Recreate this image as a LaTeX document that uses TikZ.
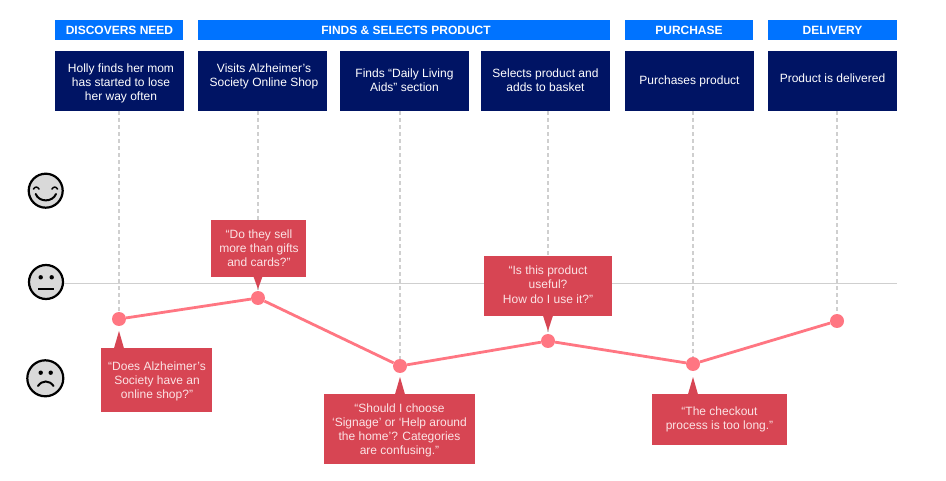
\documentclass[tikz,border=0pt]{standalone}
\usepackage{fontspec}
\setmainfont{Liberation Sans}
\definecolor{hdrblue}{HTML}{0073FF}
\definecolor{navy}{HTML}{001464}
\definecolor{callred}{HTML}{D74553}
\definecolor{curve}{HTML}{FF7682}
\definecolor{guide}{HTML}{CFCFCF}
\definecolor{facefill}{HTML}{D9D9D9}
\definecolor{facetext}{HTML}{FBE3E5}
\tikzset{
  hdr/.style={fill=hdrblue,text=white,font=\fontsize{12}{14}\selectfont\bfseries,inner sep=0pt},
  stepbox/.style={fill=navy,text=white,font=\fontsize{12}{14.2}\selectfont,inner sep=0pt},
  callbox/.style={fill=callred,text=facetext,font=\fontsize{12}{14.2}\selectfont,inner sep=0pt},
  dot/.style={circle,fill=curve,minimum size=14pt,inner sep=0pt},
  guideline/.style={guide,line width=1.6pt,dash pattern=on 4pt off 3pt},
  curveline/.style={curve,line width=2.8pt},
  facecircle/.style={circle,draw=black,line width=2.2pt,fill=facefill,inner sep=0pt},
  facestroke/.style={black,line width=2pt,line cap=round}
}
% name style x0 y0 x1 y1 dx dy text : text shifted by dx,dy (dy downwards)
\newcommand{\pbox}[9]{%
  \node[#2,minimum width=#5pt-#3pt,minimum height=#6pt-#4pt] (#1) at ({(#3+#5)/2},{(#4+#6)/2})
  {\hspace*{\dimexpr 2\dimexpr #7pt\relax\relax}\raisebox{0pt}[\dimexpr\height+#8pt\relax][\dimexpr\depth-#8pt\relax]{\begin{tabular}{@{}c@{}}#9\end{tabular}}};}
\begin{document}
\begin{tikzpicture}[x=1pt,y=-1pt]
\useasboundingbox (0,0) rectangle (946,481);
\fill[white] (0,0) rectangle (946,481);
% headers
\pbox{h1}{hdr}{55}{20}{183}{40}{0.5}{1.5}{DISCOVERS NEED}
\pbox{h2}{hdr}{198}{20}{610}{40}{2}{1.5}{FINDS \& SELECTS PRODUCT}
\pbox{h3}{hdr}{625}{20}{753}{40}{0}{1.5}{PURCHASE}
\pbox{h4}{hdr}{768}{20}{897}{40}{0}{1.5}{DELIVERY}
% steps
\pbox{s1}{stepbox}{55}{51}{184}{111}{1.5}{2.5}{Holly finds her mom\\has started to lose\\her way often}
\pbox{s2}{stepbox}{198}{51}{327}{111}{1.5}{-4}{Visits Alzheimer’s\\Society Online Shop}
\pbox{s3}{stepbox}{340}{51}{469}{111}{0}{1}{Finds “Daily Living\\Aids” section}
\pbox{s4}{stepbox}{481}{51}{610}{111}{0}{1}{Selects product and\\adds to basket}
\pbox{s5}{stepbox}{625}{51}{754}{111}{0}{1}{Purchases product}
\pbox{s6}{stepbox}{768}{51}{897}{111}{0}{-1}{Product is delivered}
% faces
\node[facecircle,minimum size=34pt] (happy) at (45.7,190.7) {};
\node[facecircle,minimum size=34pt] (neutral) at (46,282) {};
\node[facecircle,minimum size=36pt] (sad) at (45.3,378.3) {};
\draw[facestroke] (35.7,194) .. controls (39,202.5) and (52.5,202.5) .. (56,194);
\draw[facestroke,line width=1.5pt] (33.5,189) .. controls (35,186.5) and (37.5,186.5) .. (39,189);
\draw[facestroke,line width=1.5pt] (52,189) .. controls (53.5,186.5) and (56,186.5) .. (57.5,189);
\fill (40.7,277.3) circle (2.2pt) (51.7,277.3) circle (2.2pt);
\draw[facestroke,line cap=butt] (38.3,289.3) -- (54,289.3);
\fill (40.7,372.7) circle (2.2pt) (50.7,372.7) circle (2.2pt);
\draw[facestroke] (38,386) .. controls (42,380) and (49.5,380) .. (53.5,386);
% guides
\draw[guide,line width=1pt] (neutral.east |- 0,283.5) -- (897,283.5);
\node[dot] (d1) at (119,319) {};
\node[dot] (d2) at (258,298) {};
\node[dot] (d3) at (400,366) {};
\node[dot] (d4) at (548,341) {};
\node[dot] (d5) at (693,364) {};
\node[dot] (d6) at (837,321) {};
\foreach \s/\d in {s1/d1,s2/d2,s3/d3,s4/d4,s5/d5,s6/d6}
  \draw[guideline] (\s.south -| \d) -- (\d);
\draw[curveline] (d1) -- (d2) -- (d3) -- (d4) -- (d5) -- (d6);
% callouts
\pbox{c1}{callbox}{101}{348}{212}{412}{0.5}{1.5}{“Does Alzheimer’s\\Society have an\\online shop?”}
\pbox{c2}{callbox}{211}{220}{306}{277}{0.5}{1}{“Do they sell\\more than gifts\\and cards?”}
\pbox{c3}{callbox}{324}{394}{475}{464}{0}{1.5}{“Should I choose\\‘Signage’ or ‘Help around\\the home’? Categories\\are confusing.”}
\pbox{c4}{callbox}{484}{256}{612}{316}{0}{0}{“Is this product\\useful?\\How do I use it?”}
\pbox{c5}{callbox}{652}{394}{787}{445}{0}{0}{“The checkout\\process is too long.”}
\fill[callred] (c1.north -| d1) ++(-5,0.5) -- (119,331) -- (124,348.5) -- cycle;
\fill[callred] (c2.south -| d2) ++(-4.5,-0.5) -- (258,289) -- (262.5,276.5) -- cycle;
\fill[callred] (c3.north -| d3) ++(-5,0.5) -- (400,377) -- (405,394.5) -- cycle;
\fill[callred] (c4.south -| d4) ++(-5,-0.5) -- (548,331) -- (553,315.5) -- cycle;
\fill[callred] (c5.north -| d5) ++(-5,0.5) -- (693,377) -- (698,394.5) -- cycle;
\end{tikzpicture}
\end{document}
